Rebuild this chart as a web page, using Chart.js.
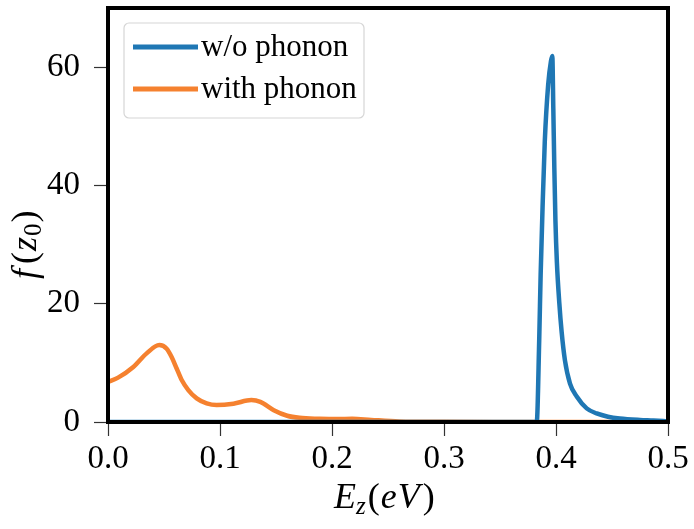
<!DOCTYPE html>
<html>
<head>
<meta charset="utf-8">
<script src="https://cdn.jsdelivr.net/npm/chart.js@4/dist/chart.umd.min.js"></script>
<style>
  html, body { margin: 0; padding: 0; background: #fff; }
  #wrap { width: 694px; height: 529px; position: relative; }
</style>
</head>
<body>
<div id="wrap"><canvas id="canvas" width="694" height="529"></canvas></div>
<script>
// w/o phonon
const noPhononX = [0, 0.1, 0.2, 0.3, 0.38, 0.3828, 0.385, 0.3863, 0.388, 0.390, 0.393, 0.3955, 0.3967, 0.3976, 0.3985, 0.3995, 0.4008, 0.403, 0.405, 0.408, 0.4125, 0.4185, 0.4274, 0.4363, 0.4464, 0.457, 0.475, 0.487, 0.5];
const noPhononY = [0, 0, 0, 0, 0, 0, 13.8, 25, 36.3, 47.5, 57, 61, 61.9, 53, 43, 34, 27, 20, 15.3, 10.4, 6.5, 4.3, 2.3, 1.45, 0.9, 0.6, 0.35, 0.25, 0.1];

// with phonon
const phononX = [0, 0.009, 0.0226, 0.0345, 0.0458, 0.0524, 0.0568, 0.0613, 0.0658, 0.0717, 0.0792, 0.0881, 0.097, 0.112, 0.128, 0.136, 0.148, 0.16, 0.171, 0.189, 0.205, 0.218, 0.235, 0.26, 0.3, 0.35, 0.4, 0.45, 0.5];
const phononY = [6.8, 7.5, 9.3, 11.6, 13.0, 12.4, 11.0, 9.05, 7.1, 5.4, 4.0, 3.15, 2.87, 3.1, 3.7, 3.4, 2.0, 1.06, 0.7, 0.55, 0.5, 0.55, 0.35, 0.1, 0.03, 0.01, 0, 0, 0];

const xTicks = [0, 0.1, 0.2, 0.3, 0.4, 0.5];
const yTicks = [0, 20, 40, 60];

const seriesLabels = ['w/o phonon', 'with phonon'];
const seriesColors = ['#1f77b4', '#f5812f'];

const serif = '"Liberation Serif", "DejaVu Serif", serif';

function toPoints(xs, ys) {
    return xs.map((x, i) => ({ x: x, y: ys[i] }));
}

// frame, axis titles and legend drawn on the canvas
const decorPlugin = {
    id: 'decor',
    afterDraw(chart) {
        const ctx = chart.ctx;
        const a = chart.chartArea;
        ctx.save();
        ctx.strokeStyle = '#000';
        ctx.lineWidth = 4;
        ctx.strokeRect(a.left, a.top, a.right - a.left, a.bottom - a.top);

        // x title: E_z(eV)
        ctx.fillStyle = '#000';
        ctx.textBaseline = 'alphabetic';
        let x = 334, y = 508;
        ctx.font = 'italic 36px ' + serif;
        ctx.fillText('E', x, y); x += ctx.measureText('E').width;
        ctx.font = 'italic 25px ' + serif;
        ctx.fillText('z', x, y + 6); x += ctx.measureText('z').width + 2;
        ctx.font = '36px ' + serif;
        ctx.fillText('(', x, y); x += ctx.measureText('(').width + 1;
        ctx.font = 'italic 36px ' + serif;
        ctx.fillText('e', x, y); x += ctx.measureText('e').width + 1;
        ctx.fillText('V', x, y); x += ctx.measureText('V').width + 3;
        ctx.font = '36px ' + serif;
        ctx.fillText(')', x, y);

        // y title: f(z_0), rotated
        ctx.save();
        ctx.translate(36, 279);
        ctx.rotate(-Math.PI / 2);
        let t = 0;
        ctx.font = 'italic 36px ' + serif;
        ctx.fillText('f', t, 0); t += ctx.measureText('f').width + 5;
        ctx.font = '36px ' + serif;
        ctx.fillText('(', t, 0); t += ctx.measureText('(').width + 1;
        ctx.font = 'italic 36px ' + serif;
        ctx.fillText('z', t, 0); t += ctx.measureText('z').width + 1;
        ctx.font = '25px ' + serif;
        ctx.fillText('0', t, 5); t += ctx.measureText('0').width + 1;
        ctx.font = '36px ' + serif;
        ctx.fillText(')', t, 0);
        ctx.restore();

        // legend
        const bx = 124, by = 23, bw = 240, bh = 95;
        ctx.fillStyle = 'rgba(255,255,255,0.8)';
        ctx.strokeStyle = '#d6d6d6';
        ctx.lineWidth = 1.2;
        ctx.beginPath();
        ctx.roundRect(bx, by, bw, bh, 5);
        ctx.fill();
        ctx.stroke();
        ctx.font = '31px ' + serif;
        ctx.textBaseline = 'middle';
        chart.data.datasets.forEach((ds, i) => {
            const ly = by + 24 + i * 42;
            ctx.strokeStyle = ds.borderColor;
            ctx.lineWidth = 5;
            ctx.beginPath();
            ctx.moveTo(133, ly);
            ctx.lineTo(198, ly);
            ctx.stroke();
            ctx.fillStyle = '#000';
            ctx.fillText(ds.label, 201, ly + 1);
        });
        ctx.restore();
    }
};

function noPad(scale) {
    scale.paddingTop = 0;
    scale.paddingBottom = 0;
    scale.paddingLeft = 0;
    scale.paddingRight = 0;
}

const ctx = document.getElementById('canvas').getContext('2d');
const myChart = new Chart(ctx, {
    type: 'line',
    data: {
        datasets: [{
            label: seriesLabels[0],
            data: toPoints(noPhononX, noPhononY),
            borderColor: seriesColors[0],
            backgroundColor: 'transparent',
            borderWidth: 4.5,
            pointRadius: 0,
            cubicInterpolationMode: 'monotone'
        },
        {
            label: seriesLabels[1],
            data: toPoints(phononX, phononY),
            borderColor: seriesColors[1],
            backgroundColor: 'transparent',
            borderWidth: 4.5,
            pointRadius: 0,
            cubicInterpolationMode: 'monotone'
        }]
    },
    options: {
        responsive: false,
        animation: false,
        layout: { padding: { left: 0, top: 8, right: 26, bottom: 0 } },
        plugins: {
            legend: { display: false },
            tooltip: { enabled: false }
        },
        scales: {
            x: {
                type: 'linear',
                min: 0,
                max: 0.5,
                afterFit(scale) { scale.height = 107; noPad(scale); },
                afterBuildTicks(scale) { scale.ticks = xTicks.map(v => ({ value: v })); },
                grid: { drawOnChartArea: false, drawTicks: true, tickLength: 14, tickColor: '#333', tickWidth: 1.2 },
                border: { display: false },
                ticks: {
                    color: '#000',
                    padding: 4,
                    maxRotation: 0,
                    font: { family: serif, size: 33 },
                    callback: v => v.toFixed(1)
                }
            },
            y: {
                min: 0,
                max: 70,
                afterFit(scale) { scale.width = 108; noPad(scale); },
                afterBuildTicks(scale) { scale.ticks = yTicks.map(v => ({ value: v })); },
                grid: { drawOnChartArea: false, drawTicks: true, tickLength: 14, tickColor: '#333', tickWidth: 1.2 },
                border: { display: false },
                ticks: {
                    color: '#000',
                    padding: 14,
                    font: { family: serif, size: 33 }
                }
            }
        }
    },
    plugins: [decorPlugin]
});
</script>
</body>
</html>
